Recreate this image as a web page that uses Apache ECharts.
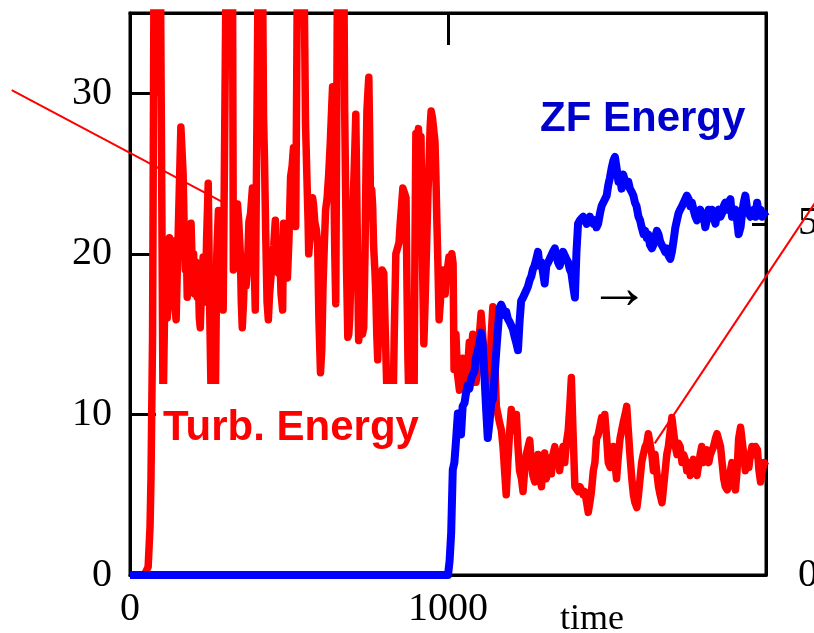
<!DOCTYPE html>
<html><head><meta charset="utf-8">
<script src="https://cdn.jsdelivr.net/npm/echarts@6/dist/echarts.min.js"></script>
<style>html,body{margin:0;padding:0;background:#fff}#c{width:814px;height:633px}</style>
</head><body><div id="c"></div>
<script>
// Turbulence energy (left axis)
const turbTime = [0,20,45,57,63,66,71,76,88,91,95,98,104,110,114,117,120,124,128,132,136,140,145,150,155,160,164,167,170,174,177,180,184,188,192,196,200,203,207,211,215,218,221,225,230,234,237,241,246,251,256,262,268,273,278,283,287,290,293,298,303,322,325,330,334,338,342,347,350,353,357,361,365,369,374,379,385,388,391,394,399,404,416,420,423,427,431,435,439,443,448,452,457,460,464,467,471,475,480,483,487,491,495,500,505,510,514,518,521,524,527,546,552,556,560,562,566,570,574,577,581,586,590,594,599,603,607,611,615,620,625,630,634,637,641,644,647,650,653,672,675,678,681,685,688,691,695,699,703,707,710,713,716,719,723,727,731,735,739,742,745,748,751,754,757,760,763,766,770,773,776,779,782,786,789,793,798,803,807,811,819,827,831,836,841,846,850,854,858,862,868,871,874,878,883,893,896,899,903,907,911,915,918,921,924,928,932,937,941,944,947,951,956,959,962,965,968,972,976,980,984,988,991,994,998,1003,1008,1012,1016,1019,1025,1030,1036,1041,1046,1052,1057,1062,1067,1073,1078,1083,1088,1094,1099,1104,1109,1115,1120,1125,1130,1136,1141,1146,1152,1157,1162,1168,1173,1178,1183,1188,1194,1199,1204,1210,1215,1220,1225,1231,1236,1241,1246,1252,1257,1262,1267,1273,1278,1283,1288,1294,1299,1304,1309,1315,1320,1325,1330,1336,1341,1346,1351,1357,1362,1367,1372,1378,1383,1388,1393,1399,1404,1409,1415,1420,1425,1430,1436,1441,1446,1451,1457,1462,1467,1472,1478,1483,1488,1493,1499,1504,1510,1515,1520,1525,1530,1536,1541,1546,1551,1557,1562,1567,1572,1578,1583,1588,1594,1599,1604,1609,1614,1620,1625,1630,1636,1641,1646,1651,1656,1662,1667,1673,1678,1683,1688,1693,1699,1704,1710,1715,1720,1725,1730,1736,1741,1746,1751,1757,1762,1767,1772,1778,1783,1788,1793,1798,1804,1809,1814,1820,1825,1830,1835,1841,1846,1852,1857,1862,1867,1872,1878,1883,1888,1893,1899,1904,1909,1914,1920,1925,1930,1935,1941,1946,1951,1956,1962,1967,1973,1978,1983,1988,1994,2000];
const turbValue = [0,0,0,0.5,3,6,15,40,40,30,40,40,10,18,19,16,17,21,18,19.5,20.8,17,15.9,20,24,27.9,27.9,25,22,19,20.5,17.3,19,21,21.9,19,20,17.5,19.5,17.3,18.5,16,15.4,18,19.8,18,17,21,24.4,16,10,10,10,20,22.7,22,21,18,16.5,28,40,40,19,20.5,21,23.1,22,20,17,15.4,17,19.5,18,19,22,22.5,24.1,24,19,16.5,28,40,40,28.5,25.8,21,17,15.9,17.5,18.5,19.6,20.5,22.1,20.5,19.5,18.8,20,17.5,16.5,21.9,20.5,19,18.5,21,24.8,25.5,26.6,24,21.7,30,40,40,28.1,25,22,20,21,22,23.5,23.1,22,21.5,20.7,16,12.6,14,18,20.5,22.7,23.5,25,27,29,30.4,25,20,16.9,28,40,40,29,24.1,19,14.8,15,16,19,21,24,26.5,28.7,24,19,14.6,15.5,16.5,15,15.4,20,25,28.9,30,31,27,22.3,24,23,20.5,19,17.5,15,13.4,15.5,17.5,17.9,19,18.8,15,12,10,10,10,15,20,20,20.7,22,23,24.1,24,23.5,18,13.4,10,10,10,20,27.5,27,27.8,26.5,27.3,22,18,14.4,17,20,23.8,26,28,28.9,28.5,28.5,27,24.8,22,19.6,15.9,17,18.5,19,18,17.5,18.5,19,19.8,19,20,19.4,12.8,15,12.5,11.5,12,13.5,12.5,11.5,13,14.5,14,15,13,12,13,15,16.3,15,13,12,11.5,12,15,16.7,14,10.5,10,9.5,9,8,6.5,5,7,9,10.3,10.2,9,10,8,6.5,6,5.2,6.5,7.5,8,8.4,7,6.2,5.8,6.5,7.5,6.1,5.5,7,7.6,6,6.5,7.3,6.3,7.5,8,7,7.5,6.5,7.5,8,7,8.2,9,10.5,12.3,9,5.5,5.5,5.2,5.5,5.3,5,5.2,4.5,3.9,4.5,5.2,6.5,7,8.5,8.7,9.3,9.8,9.3,10,8.5,7,6.7,7.5,8,7,6,7.5,8.5,9,9.5,10,10.5,9,7.5,6,5,4.5,4.2,5,6,7,7.5,8,8.2,8.8,8.8,7.5,6.5,7.5,6.5,5.5,5,4.5,5.5,6.5,7.5,8,9,9.8,9.8,8,7.5,8.2,8,7,7.5,7.2,6.5,7,6.2,6.5,7.2,6.5,6.2,6.2,7.5,8,7,7.5,7.8,7,7.5,7.5,8,8.5,8.8,8.8,8,7,6,5.5,5.3,5.5,6.5,7,6,5.3,6.5,8.5,9.2,9.2,7.5,6.5,7,6.7,7.5,8,7.5,8,7.8,6.5,5.8,6.5,7,6.8];
// Zonal flow energy (right axis)
const zfTime = [0,1000,1005,1010,1015,1020,1025,1031,1036,1041,1046,1052,1057,1062,1067,1073,1078,1083,1088,1094,1099,1104,1109,1115,1120,1125,1131,1136,1141,1146,1152,1157,1162,1167,1172,1178,1183,1188,1194,1199,1204,1209,1215,1220,1225,1230,1236,1241,1246,1251,1257,1262,1267,1272,1278,1283,1288,1294,1299,1304,1309,1315,1320,1325,1330,1336,1341,1346,1351,1357,1362,1367,1372,1378,1383,1388,1394,1399,1404,1409,1415,1420,1425,1431,1436,1441,1446,1451,1457,1462,1467,1472,1478,1483,1488,1494,1499,1504,1509,1515,1520,1525,1530,1536,1541,1546,1551,1557,1562,1567,1572,1578,1583,1588,1593,1599,1604,1609,1615,1620,1625,1630,1635,1641,1646,1651,1657,1662,1667,1672,1678,1683,1688,1693,1699,1704,1709,1715,1720,1725,1730,1736,1741,1746,1751,1757,1762,1767,1772,1778,1783,1788,1793,1798,1804,1809,1814,1820,1825,1830,1835,1841,1846,1851,1857,1862,1867,1872,1878,1883,1888,1893,1899,1904,1909,1914,1920,1925,1930,1935,1941,1946,1951,1956,1962,1967,1972,1977,1983,1988,1993,2000];
const zfValue = [0,0,0.2,0.6,1.5,1.6,1.9,2.3,2.2,2.0,2.4,2.45,2.6,2.7,2.65,2.8,2.85,2.9,3.1,3.2,3.3,3.45,3.3,2.8,2.35,1.95,2.2,2.45,2.5,2.8,3.2,3.5,3.8,3.85,3.8,3.7,3.75,3.65,3.6,3.55,3.5,3.4,3.3,3.2,3.6,3.9,3.95,3.95,4.05,4.1,4.2,4.25,4.35,4.4,4.5,4.6,4.4,4.45,4.3,4.15,4.4,4.45,4.5,4.5,4.6,4.65,4.55,4.45,4.4,4.5,4.6,4.55,4.5,4.45,4.35,4.3,4.1,3.95,4.6,5.0,5.05,5.05,5.1,5.05,5.0,5.05,5.1,5.05,5.0,5.05,4.95,5.0,5.15,5.25,5.3,5.3,5.4,5.55,5.65,5.8,5.9,5.95,5.8,5.6,5.65,5.5,5.7,5.6,5.55,5.6,5.5,5.45,5.4,5.3,5.25,5.1,5.05,4.95,4.85,4.9,4.8,4.85,4.7,4.65,4.7,4.8,4.9,4.85,4.75,4.7,4.65,4.6,4.65,4.55,4.5,4.6,4.75,4.95,5.05,5.15,5.2,5.25,5.3,5.35,5.4,5.35,5.25,5.3,5.2,5.1,5.05,5.15,5.2,5.15,5.1,4.95,5.05,5.2,5.1,5.2,5.1,5.0,5.15,5.2,5.1,5.15,5.25,5.3,5.2,5.3,5.35,5.1,5.15,5.2,5.05,4.85,4.95,5.15,5.3,5.4,5.2,5.15,5.1,5.15,5.2,5.1,5.3,5.15,5.2,5.1,5.15,5.1];
const xTickLabels = [0, 1000];
const leftTickLabels = [0, 10, 20, 30];
const rightTickLabels = [0, 5];

const chart = echarts.init(document.getElementById('c'), null, {renderer: 'canvas'});
const serif = '"Liberation Serif", "Times New Roman", serif';
const axisLineStyle = {color: '#000', width: 3};
const numLabel = {fontFamily: serif, fontSize: 40, color: '#000'};

chart.setOption({
  animation: false,
  backgroundColor: '#fff',
  grid: {left: 130, right: 48, top: 13, bottom: 58, show: true, borderColor: '#000', borderWidth: 3,
         containLabel: false, outerBoundsMode: 'none'},
  xAxis: [
    {type: 'value', position: 'bottom', min: 0, max: 2000, interval: 1000,
     axisLine: {show: true, onZero: false, lineStyle: axisLineStyle},
     axisTick: {show: true, inside: true, length: 32, lineStyle: {color: '#000', width: 3}},
     splitLine: {show: false},
     axisLabel: Object.assign({margin: 14, formatter: v => xTickLabels.includes(v) ? String(v) : ''}, numLabel)},
    {type: 'value', position: 'top', min: 0, max: 2000, interval: 1000,
     axisLine: {show: true, onZero: false, lineStyle: axisLineStyle},
     axisTick: {show: true, inside: true, length: 32, lineStyle: {color: '#000', width: 3}},
     splitLine: {show: false}, axisLabel: {show: false}}
  ],
  yAxis: [
    {type: 'value', position: 'left', min: 0, max: 35, interval: 10,
     axisLine: {show: true, onZero: false, lineStyle: axisLineStyle},
     axisTick: {show: true, inside: true, length: 26, lineStyle: {color: '#000', width: 3}},
     splitLine: {show: false},
     axisLabel: Object.assign({margin: 18, formatter: v => leftTickLabels.includes(v) ? String(v) : ''}, numLabel)},
    {type: 'value', position: 'right', min: 0, max: 8, interval: 5,
     axisLine: {show: true, onZero: false, lineStyle: axisLineStyle},
     axisTick: {show: true, inside: true, length: 14, lineStyle: {color: '#000', width: 3}},
     splitLine: {show: false},
     axisLabel: Object.assign({margin: 32, formatter: v => rightTickLabels.includes(v) ? String(v) : ''}, numLabel)}
  ],
  series: [
    {name: 'Turb. Energy', type: 'line', xAxisIndex: 0, yAxisIndex: 0, showSymbol: false, clip: true,
     data: turbTime.map((t, i) => [t, turbValue[i]]),
     lineStyle: {color: '#ff0000', width: 7.5, join: 'round'}, z: 3},
    {name: 'ZF Energy', type: 'line', xAxisIndex: 0, yAxisIndex: 1, showSymbol: false, clip: false,
     data: zfTime.map((t, i) => [t, zfValue[i]]),
     lineStyle: {color: '#0000ff', width: 8, join: 'round'}, z: 4}
  ]
});

// annotations (pointer lines defined in data coordinates)
const p = (t, v) => chart.convertToPixel({gridIndex: 0}, [t, v]);
const a1 = p(-372, 30.2), b1 = p(293, 23.2);
const a2 = p(1650, 8.2), b2 = p(2165, 23.5);

function txt(text, x, y, font, fill, z) {
  return {type: 'text', x: x, y: y, z: z || 100,
    style: {text: text, font: font, fill: fill, align: 'left', verticalAlign: 'middle',
            textAlign: 'left', textVerticalAlign: 'middle'}};
}

chart.setOption({
  graphic: [
    {type: 'rect', shape: {x: 158, y: 384, width: 268, height: 70}, style: {fill: '#fff'}, z: 90},
    txt('Turb. Energy', 163, 428, 'bold 42px "Liberation Sans", Arial, sans-serif', '#ff0000', 95),
    txt('ZF Energy', 540, 119, 'bold 42px "Liberation Sans", Arial, sans-serif', '#0000cc', 95),
    txt('\u2192', 588, 292, '62px "Liberation Serif", serif', '#000', 95),
    txt('time', 560, 620, '36px "Liberation Serif", serif', '#000', 95),
    {type: 'line', shape: {x1: a1[0], y1: a1[1], x2: b1[0], y2: b1[1]}, style: {stroke: '#ff0000', lineWidth: 2}, z: 96},
    {type: 'line', shape: {x1: a2[0], y1: a2[1], x2: b2[0], y2: b2[1]}, style: {stroke: '#ff0000', lineWidth: 2}, z: 96}
  ]
});
</script>
</body></html>
